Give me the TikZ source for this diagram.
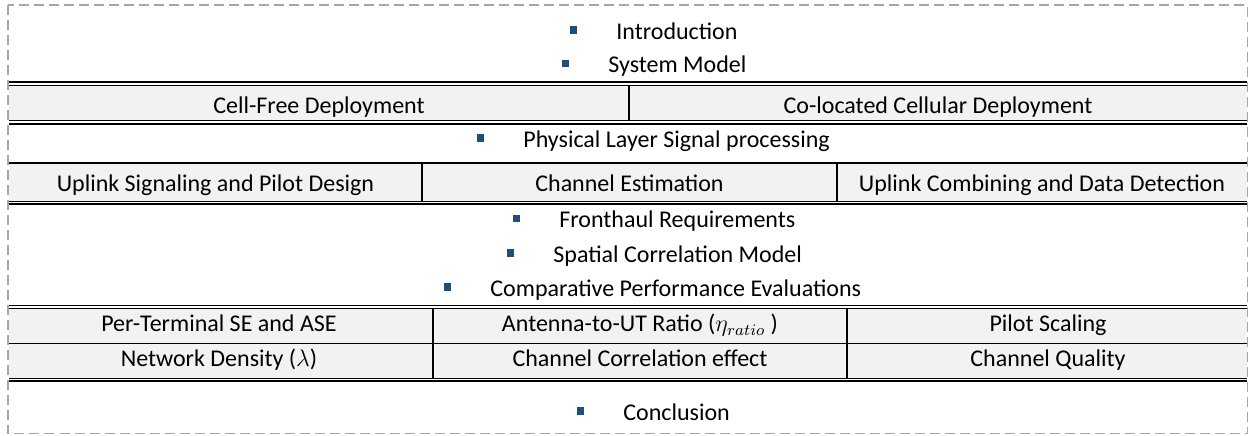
\documentclass[tikz,border=0pt]{standalone}
\usepackage{fontspec}
\setmainfont{Carlito}

\definecolor{bulletblue}{HTML}{1F4E79}
\definecolor{cellgray}{HTML}{F2F2F2}
\definecolor{framegray}{HTML}{A6A6A6}

\begin{document}
\begin{tikzpicture}[x=0.5pt, y=-0.5pt, font=\fontsize{12}{14.4}\selectfont,
		bulletsq/.style={fill=bulletblue, inner sep=0pt, minimum size=3.6pt, label distance=19.4pt},
		heading/.style={anchor=base west, inner sep=0pt, text height=9pt, text depth=0pt,
			label={[bulletsq]left:{}}},
		celltext/.style={anchor=base, inner sep=0pt},
		outerrule/.style={line width=0.85pt},
		innerrule/.style={line width=0.5pt},
		divider/.style={line width=0.65pt}]
		
		\useasboundingbox (0,0) rectangle (1249,435);
		
		% ==========================================
		% OUTER FRAME
		% ==========================================
		\draw[framegray, line width=0.7pt, dash pattern=on 5pt off 2.5pt] (8,5) rectangle (1247.5,433.5);
		
		% ==========================================
		% SECTION HEADINGS (bulleted)
		% ==========================================
		\node[heading] (intro) at (616,39) {Introduction};
		\node[heading] (sysmodel) at (608,72.7) {System Model};
		\node[heading] (phylayer) at (523,147) {Physical Layer Signal processing};
		\node[heading] (fronthaul) at (559,227.7) {Fronthaul Requirements};
		\node[heading] (spatial) at (553,262) {Spatial Correlation Model};
		\node[heading] (compare) at (490,296) {Comparative Performance Evaluations};
		\node[heading] (conclusion) at (623,420) {Conclusion};
		
		% ==========================================
		% DEPLOYMENT ROW
		% ==========================================
		\fill[cellgray] (9,85.3) rectangle (1247,120.7);
		\draw[outerrule] (9,82.3) -- (1247,82.3);
		\draw[innerrule] (9,85.3) -- (1247,85.3);
		\draw[innerrule] (9,120.7) -- (1247,120.7);
		\draw[outerrule] (9,123.7) -- (1247,123.7);
		\draw[divider] (629,85.3) -- (629,120.7);
		
		\node[celltext] (cellfree) at (319,113.3) {Cell-Free Deployment};
		\node[celltext] (colocated) at (938,113.3) {Co-located Cellular Deployment};
		
		% ==========================================
		% SIGNAL PROCESSING ROW
		% ==========================================
		\fill[cellgray] (9,163) rectangle (1247,201.3);
		\draw[line width=1pt] (9,163) -- (1247,163);
		\draw[innerrule] (9,201.3) -- (1247,201.3);
		\draw[outerrule] (9,204.3) -- (1247,204.3);
		\foreach \xd in {422, 837}
			\draw[line width=1pt] (\xd,163) -- (\xd,201.3);
		
		\node[celltext] (pilotdesign) at (215.5,191.7) {Uplink Signaling and Pilot Design};
		\node[celltext] (chest) at (629.5,191.7) {Channel Estimation};
		\node[celltext] (combining) at (1042,191.7) {Uplink Combining and Data Detection};
		
		% ==========================================
		% EVALUATION GRID (2 x 3)
		% ==========================================
		\fill[cellgray] (9,308.5) rectangle (1247,378);
		\draw[outerrule] (9,305.5) -- (1247,305.5);
		\draw[innerrule] (9,308.5) -- (1247,308.5);
		\draw[innerrule] (9,343) -- (1247,343);
		\draw[innerrule] (9,378) -- (1247,378);
		\draw[outerrule] (9,381) -- (1247,381);
		\foreach \xd in {433, 847}
			\draw[divider] (\xd,308.5) -- (\xd,378);
		
		\node[celltext] (sease) at (219,331.7) {Per-Terminal SE and ASE};
		\node[celltext] (ratio) at (640,331.7) {Antenna-to-UT Ratio ($\eta_{ratio}$\ )};
		\node[celltext] (pilotscale) at (1048,331.7) {Pilot Scaling};
		\node[celltext] (density) at (219,366) {Network Density ($\lambda$)};
		\node[celltext] (correlation) at (640,366) {Channel Correlation effect};
		\node[celltext] (quality) at (1048,366) {Channel Quality};
		
	\end{tikzpicture}
\end{document}
